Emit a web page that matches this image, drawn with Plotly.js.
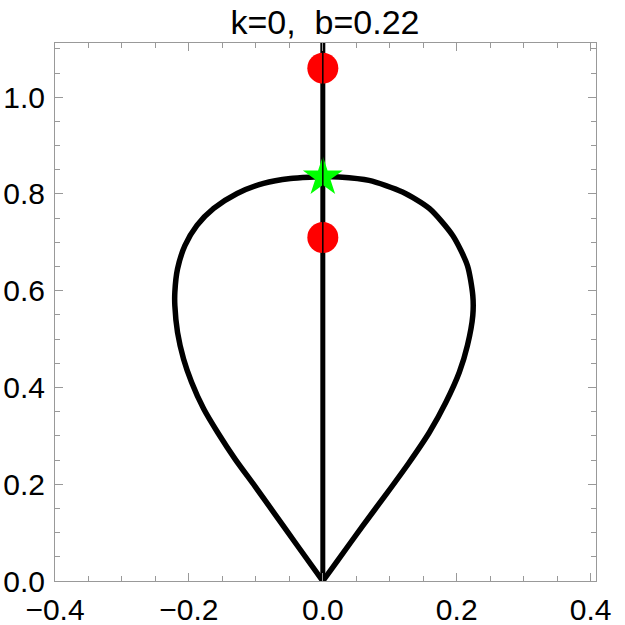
<!DOCTYPE html>
<html>
<head>
<meta charset="utf-8">
<script src="https://cdn.plot.ly/plotly-3.0.1.min.js"></script>
<style>html,body{margin:0;padding:0;background:#fff;}#chart{width:625px;height:625px;}</style>
</head>
<body>
<div id="chart"></div>
<script>
// Left half of the teardrop curve (bottom -> top)
const leftX = [0, -0.040, -0.0735, -0.102, -0.131, -0.157, -0.178, -0.196, -0.208, -0.217, -0.221, -0.221, -0.217, -0.206, -0.188, -0.163, -0.128, -0.0885, -0.0484, -0.0135, 0];
const leftY = [0, 0.077, 0.142, 0.197, 0.252, 0.307, 0.356, 0.411, 0.459, 0.514, 0.569, 0.597, 0.645, 0.693, 0.735, 0.770, 0.801, 0.822, 0.832, 0.835, 0.836];
// Right half of the teardrop curve (top -> bottom)
const rightX = [0, 0.024, 0.069, 0.119, 0.159, 0.194, 0.216, 0.224, 0.224, 0.216, 0.204, 0.184, 0.159, 0.129, 0.095, 0.059, 0.021, 0];
const rightY = [0.836, 0.835, 0.828, 0.804, 0.770, 0.714, 0.652, 0.590, 0.549, 0.487, 0.432, 0.370, 0.307, 0.245, 0.180, 0.113, 0.040, 0];
// Vertical axis-of-symmetry line
const vlineX = [0, 0];
const vlineY = [0, 1.2];
// Red points
const redX = [0, 0];
const redY = [1.06, 0.71];
// Green star
const starX = [0];
const starY = [0.835];
// Axis ticks
const xTicks = [-0.4, -0.2, 0, 0.2, 0.4];
const xTickText = ["\u22120.4", "\u22120.2", "0.0", "0.2", "0.4"];
const yTicks = [0, 0.2, 0.4, 0.6, 0.8, 1.0];
const yTickText = ["0.0", "0.2", "0.4", "0.6", "0.8", "1.0"];
const titleText = "k=0,  b=0.22";

const curveLine = {color: '#000', width: 5.5, shape: 'spline', smoothing: 0.7};
const traces = [
  {x: leftX, y: leftY, mode: 'lines', line: curveLine, hoverinfo: 'none'},
  {x: rightX, y: rightY, mode: 'lines', line: curveLine, hoverinfo: 'none'},
  {x: vlineX, y: vlineY, mode: 'lines', line: {color: '#000', width: 5}, hoverinfo: 'none'},
  {x: redX, y: redY, mode: 'markers', marker: {color: '#ff0000', size: 31, line: {width: 0}}, cliponaxis: false, hoverinfo: 'none'},
  {x: starX, y: starY, mode: 'markers', marker: {color: '#00ff00', size: 30, symbol: 'star', line: {width: 0}}, cliponaxis: false, hoverinfo: 'none'},
  {x: vlineX, y: vlineY, mode: 'lines', line: {color: '#000', width: 1.5}, hoverinfo: 'none'}
];

const axisCommon = {
  showgrid: false, zeroline: false, showline: true, linecolor: '#999999', linewidth: 1,
  mirror: 'allticks', ticks: 'inside', ticklen: 8, tickwidth: 1, tickcolor: '#999999',
  tickfont: {family: 'Liberation Sans, Arial, sans-serif', size: 30, color: '#000'},
  minor: {dtick: 0.05, ticks: 'inside', ticklen: 5, tickwidth: 1, tickcolor: '#999999', showgrid: false}
};

const layout = {
  width: 625, height: 625,
  margin: {l: 55, r: 29, t: 43, b: 44},
  paper_bgcolor: '#fff', plot_bgcolor: '#fff',
  showlegend: false,
  title: {text: titleText, x: 0.52, xanchor: 'center', y: 0.965, yanchor: 'middle',
          font: {family: 'Liberation Sans, Arial, sans-serif', size: 34, color: '#000'}},
  xaxis: Object.assign({}, axisCommon, {range: [-0.4, 0.408], tickmode: 'array', tickvals: xTicks, ticktext: xTickText, ticklabelstandoff: 2}),
  yaxis: Object.assign({}, axisCommon, {range: [0, 1.112], tickmode: 'array', tickvals: yTicks, ticktext: yTickText, ticklabelstandoff: 3})
};

Plotly.newPlot('chart', traces, layout, {displayModeBar: false, staticPlot: true});
</script>
</body>
</html>
